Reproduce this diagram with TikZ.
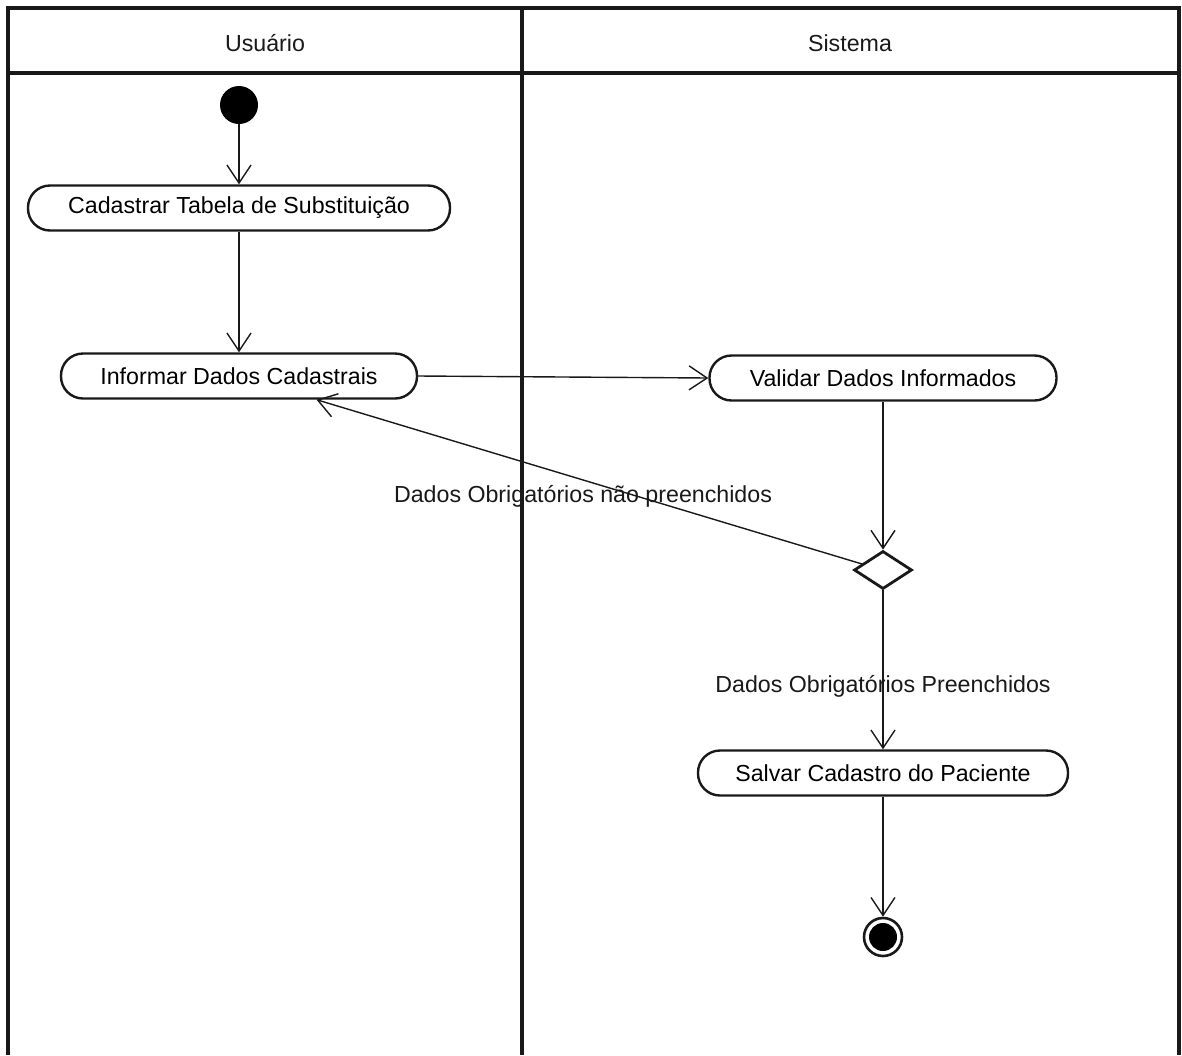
\documentclass[tikz,border=0pt]{standalone}
\usepackage{fontspec}
\setmainfont{Liberation Sans}
\usetikzlibrary{arrows.meta,shapes.geometric}
\definecolor{inkgray}{RGB}{25,25,25}

\begin{document}
\begin{tikzpicture}[
    x=0.5pt, y=-0.5pt,
    action/.style={draw=inkgray, line width=1.2pt, rounded corners=11pt, minimum height=22.5pt, inner sep=0pt, font=\fontsize{11.6}{13}\selectfont},
    flow/.style={line width=0.7pt, draw=inkgray, -{Straight Barb[length=9pt,width=12pt]}},
    lbl/.style={font=\fontsize{11.6}{13}\selectfont, color=inkgray},
    lane/.style={line width=1.6pt, draw=inkgray}
  ]
  \useasboundingbox (0,0) rectangle (1182,1055);
  \draw[lane] (8,1055) -- (8,8) -- (1179,8) -- (1179,1055);
  \draw[lane] (8,73) -- (1179,73);
  \draw[lane] (522,8) -- (522,1055);
  \node[lbl] (usr) at (265,43) {Usuário};
  \node[lbl] (sys) at (850,43) {Sistema};

  \node[circle, fill=black, minimum size=19pt, inner sep=0pt] (ini) at (239,105) {};
  \node[action, minimum width=211pt] (cad) at (239,208) {Cadastrar Tabela de Substituição};
  \node[action, minimum width=178pt] (info) at (239,376) {Informar Dados Cadastrais};
  \node[action, minimum width=173.5pt] (val) at (883,378) {Validar Dados Informados};
  \node[diamond, draw=inkgray, line width=1.4pt, minimum width=29pt, minimum height=19pt, inner sep=0pt] (dec) at (883,570) {};
  \node[action, minimum width=185pt] (salv) at (883,773) {Salvar Cadastro do Paciente};
  \node[circle, draw=inkgray, line width=1.3pt, minimum size=19pt, inner sep=0pt,
        path picture={\fill[black] (path picture bounding box.center) circle (7pt);}] (fim) at (883,937) {};

  \node[lbl] (nok) at (583,496) {Dados Obrigatórios não preenchidos};
  \node[lbl] (ok) at (883,686) {Dados Obrigatórios Preenchidos};

  \draw[flow] (ini) -- (cad);
  \draw[flow] (cad) -- (info);
  \draw[flow] (info.east) -- (val.west);
  \draw[flow] (val) -- (dec);
  \draw[flow] (dec.164) -- (info.-17);
  \draw[flow] (dec) -- (salv);
  \draw[flow] (salv) -- (fim);
\end{tikzpicture}
\end{document}
